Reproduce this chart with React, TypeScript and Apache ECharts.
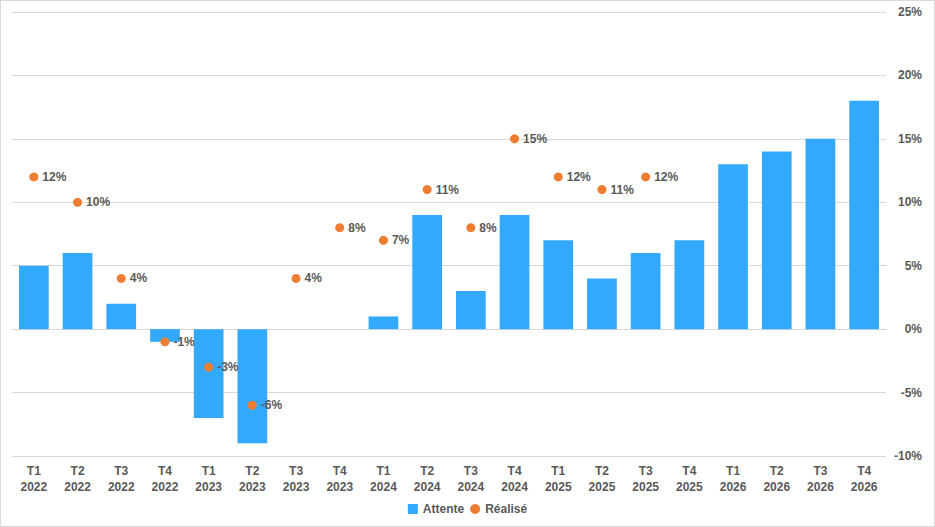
import { useEffect, useRef } from 'react';
import * as echarts from 'echarts';

const trimestres = ['T1', 'T2', 'T3', 'T4'];
const annees = ['2022', '2023', '2024', '2025', '2026'];
const categories = annees.flatMap((a) => trimestres.map((t) => `${t}\n${a}`));

// Attente (barres), en %
const attente = [5, 6, 2, -1, -7, -9, 0, 0, 1, 9, 3, 9, 7, 4, 6, 7, 13, 14, 15, 18];
// Réalisé (points), en %
const realise = [12, 10, 4, -1, -3, -6, 4, 8, 7, 11, 8, 15, 12, 11, 12, null, null, null, null, null];

const yTicks = { min: -10, max: 25, interval: 5 };

const textColor = '#595959';
const font = 'Liberation Sans, Arial, sans-serif';

const App = () => {
    const chartRef = useRef<HTMLDivElement | null>(null);

    useEffect(() => {
        document.body.style.margin = '0';
        const myChart = echarts.init(chartRef.current!, null, { renderer: 'svg' });

        const option: echarts.EChartsOption = {
            animation: false,
            textStyle: { fontFamily: font },
            grid: { left: 11, right: 48, top: 11, bottom: 70, containLabel: false },
            legend: {
                bottom: 6,
                left: 'center',
                itemWidth: 10,
                itemHeight: 10,
                itemGap: 6,
                textStyle: { color: textColor, fontWeight: 'bold', fontSize: 12, fontFamily: font },
                data: [
                    { name: 'Attente', icon: 'rect' },
                    { name: 'Réalisé', icon: 'circle' },
                ],
            },
            xAxis: {
                type: 'category',
                data: categories,
                axisLine: { show: false },
                axisTick: { show: false },
                axisLabel: {
                    color: textColor,
                    fontWeight: 'bold',
                    fontSize: 12,
                    lineHeight: 16,
                    margin: 7,
                    interval: 0,
                },
            },
            yAxis: {
                type: 'value',
                position: 'right',
                min: yTicks.min,
                max: yTicks.max,
                interval: yTicks.interval,
                axisLine: { show: false },
                axisTick: { show: false },
                splitLine: { lineStyle: { color: '#d9d9d9', width: 1 } },
                axisLabel: {
                    color: textColor,
                    fontWeight: 'bold',
                    fontSize: 12,
                    margin: 36,
                    align: 'right',
                    formatter: '{value}%',
                },
            },
            series: [
                {
                    name: 'Attente',
                    type: 'bar',
                    data: attente,
                    barWidth: '68%',
                    itemStyle: { color: '#33A9FB' },
                },
                {
                    name: 'Réalisé',
                    type: 'scatter',
                    data: realise,
                    symbol: 'circle',
                    symbolSize: 9,
                    itemStyle: { color: '#ED7D31', opacity: 1 },
                    label: {
                        show: true,
                        position: 'right',
                        distance: 4,
                        color: textColor,
                        fontWeight: 'bold',
                        fontSize: 12,
                        formatter: (p: any) => `${p.value}%`,
                    },
                },
            ],
        };

        myChart.setOption(option);

        return () => {
            myChart.dispose();
        };
    }, []);

    return (
        <div
            style={{
                width: 935,
                height: 527,
                boxSizing: 'border-box',
                border: '1px solid #d9d9d9',
                background: '#fff',
            }}
        >
            <div ref={chartRef} style={{ width: 933, height: 525 }} />
        </div>
    );
};

export default App;
